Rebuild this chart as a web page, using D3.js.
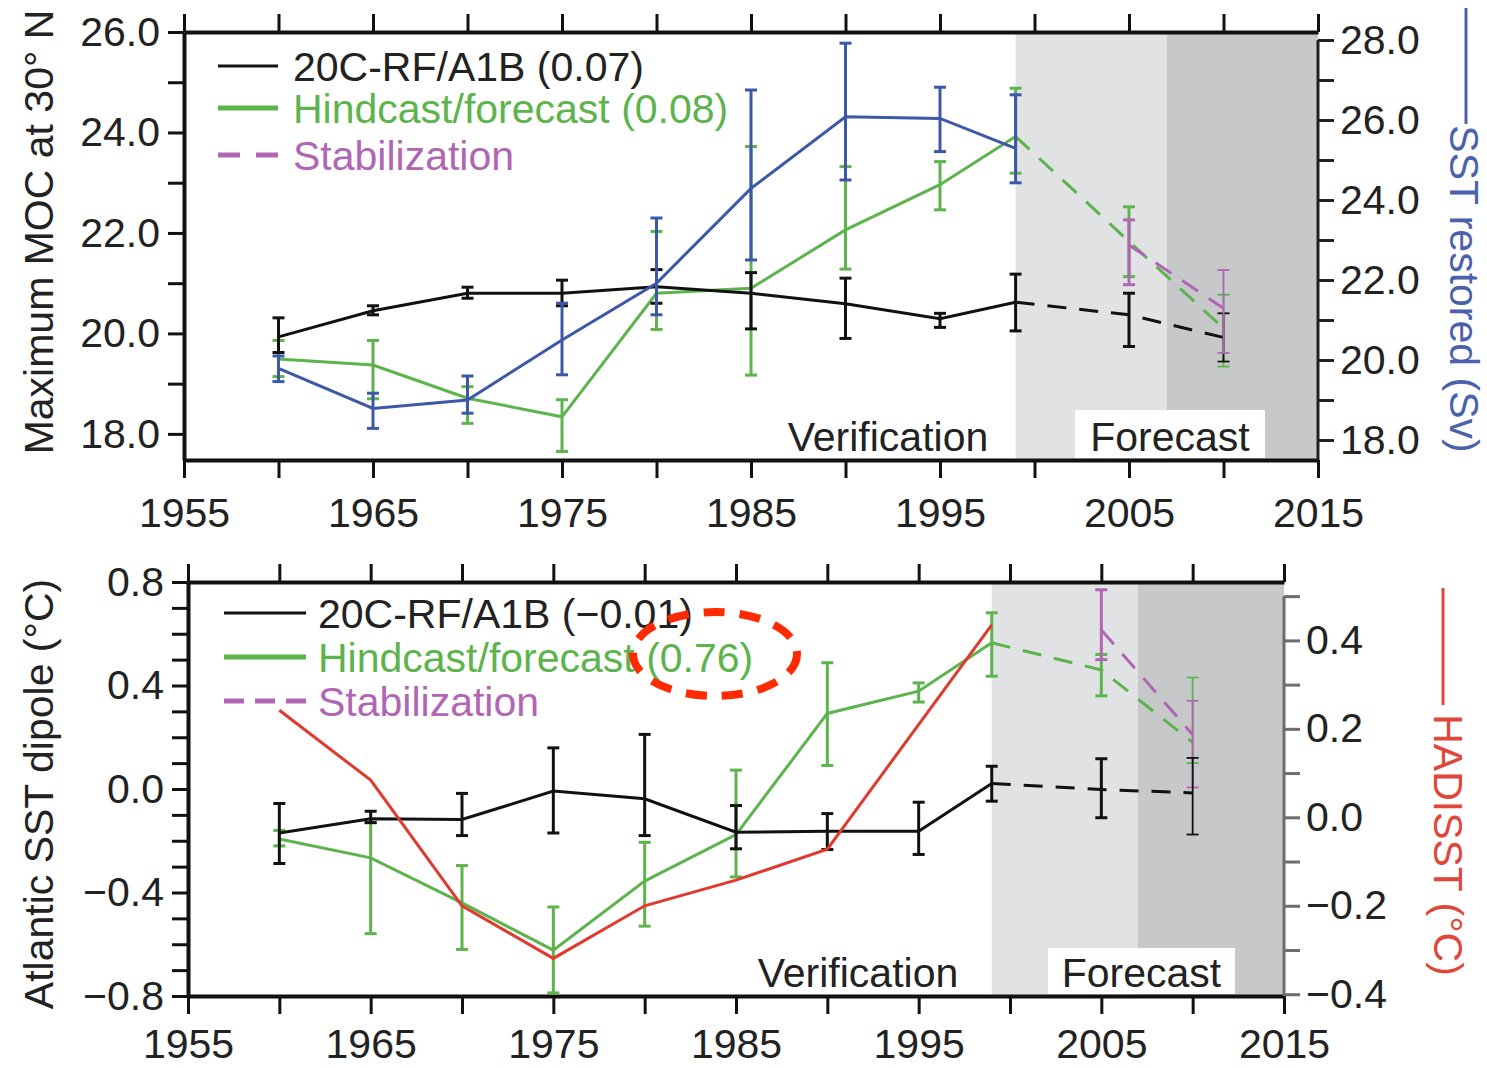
<!DOCTYPE html>
<html>
<head>
<meta charset="utf-8">
<script src="https://cdn.jsdelivr.net/npm/d3@7"></script>
<style>
body { margin: 0; background: #fff; }
svg text { font-family: "Liberation Sans", Arial, Helvetica, sans-serif; }
</style>
</head>
<body>
<svg class="chart" width="1487" height="1068"></svg>
<script>
// ---- data ----------------------------------------------------------------
// decades of the hindcasts plus the two forecast points
var years = [1960, 1965, 1970, 1975, 1980, 1985, 1990, 1995, 1999, 2005, 2010];
var stabYears = [2005, 2010];
var obsYears = [1960, 1965, 1970, 1975, 1980, 1985, 1990, 1995, 1999];
var lastHindcast = 1999;
var shadeEdges = [1999, 2007, 2015];

// upper panel: maximum MOC at 30N (Sv)
var mocRef   = [19.93, 20.45, 20.80, 20.80, 20.93, 20.80, 20.59, 20.29, 20.62, 20.37, 19.92];
var mocRefLo = [19.62, 20.37, 20.70, 20.55, 20.60, 20.09, 19.90, 20.12, 20.05, 19.74, 19.44];
var mocRefHi = [20.31, 20.55, 20.92, 21.06, 21.27, 21.21, 21.10, 20.40, 21.18, 20.80, 20.40];
var mocHind   = [19.49, 19.37, 18.71, 18.34, 20.80, 20.90, 22.06, 22.96, 23.92, 21.83, 20.10];
var mocHindLo = [19.14, 18.70, 18.21, 17.65, 20.08, 19.17, 21.28, 22.46, 23.19, 21.13, 19.34];
var mocHindHi = [19.86, 19.86, 18.94, 18.68, 22.03, 23.72, 23.32, 23.42, 24.88, 22.52, 20.77];
var mocStab   = [21.76, 20.50];
var mocStabLo = [20.97, 19.61];
var mocStabHi = [22.26, 21.26];
// SST-restored run (right axis)
var sstRest   = [19.79, 18.79, 19.00, 20.50, 21.92, 24.29, 26.08, 26.04, 25.29];
var sstRestLo = [19.46, 18.29, 18.67, 19.63, 21.13, 22.50, 24.50, 25.21, 24.43];
var sstRestHi = [20.10, 19.17, 19.60, 21.42, 23.55, 26.75, 27.92, 26.82, 26.63];

// lower panel: Atlantic SST dipole (degC)
var dipRef   = [-0.170, -0.115, -0.118, -0.008, -0.038, -0.167, -0.163, -0.163, 0.021, -0.002, -0.015];
var dipRefLo = [-0.288, -0.130, -0.180, -0.170, -0.180, -0.231, -0.234, -0.253, -0.047, -0.111, -0.176];
var dipRefHi = [-0.056, -0.086, -0.017, 0.159, 0.211, -0.064, -0.095, -0.051, 0.088, 0.117, 0.120];
var dipHind   = [-0.193, -0.266, -0.440, -0.623, -0.356, -0.176, 0.292, 0.378, 0.565, 0.460, 0.180];
var dipHindLo = [-0.220, -0.559, -0.620, -0.788, -0.530, -0.340, 0.091, 0.336, 0.436, 0.360, 0.100];
var dipHindHi = [-0.160, -0.130, -0.296, -0.456, -0.206, 0.073, 0.488, 0.410, 0.681, 0.520, 0.431];
var dipStab   = [0.615, 0.210];
var dipStabLo = [0.500, 0.006];
var dipStabHi = [0.770, 0.341];
// HadISST observations (right axis)
var hadisst = [0.242, 0.084, -0.200, -0.319, -0.200, -0.142, -0.072, 0.435];
var hadYears = [1960, 1965, 1970, 1975, 1980, 1985, 1990, 1999];

var legendTop = ["20C-RF/A1B (0.07)", "Hindcast/forecast (0.08)", "Stabilization"];
var legendBot = ["20C-RF/A1B (\u22120.01)", "Hindcast/forecast (0.76)", "Stabilization"];

var col = {
  ref: "#111", hind: "#5db34c", stab: "#b066b3", sst: "#3d58a6", had: "#e0392d",
  light: "#e1e2e4", dark: "#c7c8ca"
};

var svg = d3.select("svg.chart");
var minus = function(s) { return String(s).replace("-", "\u2212"); };

// ---- helpers -------------------------------------------------------------
var lineGen = function(x, y) {
  return d3.line().x(function(d) { return x(d[0]); }).y(function(d) { return y(d[1]); });
};

// solid up to the last hindcast, dashed afterwards
var drawSeries = function(g, x, y, yrs, vals, color, width) {
  var pts = yrs.map(function(d, i) { return [d, vals[i]]; });
  var solid = pts.filter(function(p) { return p[0] <= lastHindcast; });
  var dashed = pts.filter(function(p) { return p[0] >= lastHindcast; });
  if (solid.length > 1)
    g.append("path").datum(solid).attr("d", lineGen(x, y))
      .attr("fill", "none").attr("stroke", color).attr("stroke-width", width);
  if (dashed.length > 1)
    g.append("path").datum(dashed).attr("d", lineGen(x, y))
      .attr("fill", "none").attr("stroke", color).attr("stroke-width", width)
      .attr("stroke-dasharray", "19,13");
};

var drawBars = function(g, x, y, yrs, lo, hi, color) {
  var data = yrs.map(function(d, i) { return {yr: d, lo: lo[i], hi: hi[i]}; });
  var bg = g.append("g").attr("stroke", color);
  data.forEach(function(d) {
    var w = d.yr === 2010 ? 1.8 : 3;
    bg.append("line").attr("x1", x(d.yr)).attr("x2", x(d.yr))
      .attr("y1", y(d.lo)).attr("y2", y(d.hi)).attr("stroke-width", w);
    [d.lo, d.hi].forEach(function(v) {
      bg.append("line").attr("x1", x(d.yr) - 6).attr("x2", x(d.yr) + 6)
        .attr("y1", y(v)).attr("y2", y(v)).attr("stroke-width", w);
    });
  });
};

var styleAxis = function(g, size, color) {
  g.attr("font-size", size).attr("font-family", null);
  g.selectAll("text").attr("fill", "#222");
  g.selectAll("line").attr("stroke", color || "#111").attr("stroke-width", 3);
  g.select(".domain").attr("stroke", color || "#111").attr("stroke-width", 4);
};

var drawPanel = function(p) {
  var x = d3.scaleLinear().domain([1955, 2015]).range([p.left, p.right]);
  var y = d3.scaleLinear().domain(p.yDomain).range([p.bottom, p.top]);
  var yR = d3.scaleLinear().domain(p.yRDomain).range([p.bottom, p.top]);
  var g = svg.append("g");

  // verification / forecast shading
  g.append("rect").attr("x", x(shadeEdges[0])).attr("y", p.top)
    .attr("width", x(shadeEdges[1]) - x(shadeEdges[0])).attr("height", p.bottom - p.top)
    .attr("fill", col.light);
  g.append("rect").attr("x", x(shadeEdges[1])).attr("y", p.top)
    .attr("width", x(shadeEdges[2]) - x(shadeEdges[1])).attr("height", p.bottom - p.top)
    .attr("fill", col.dark);
  g.append("rect").attr("x", p.fcBox[0]).attr("y", p.fcBox[1])
    .attr("width", p.fcBox[2]).attr("height", p.fcBox[3]).attr("fill", "#fff");
  g.append("text").attr("x", p.verifX).attr("y", p.labelY).attr("text-anchor", "middle")
    .attr("font-size", 41).attr("fill", "#222").text("Verification");
  g.append("text").attr("x", p.fcBox[0] + p.fcBox[2] / 2).attr("y", p.labelY)
    .attr("text-anchor", "middle").attr("font-size", 41).attr("fill", "#222").text("Forecast");

  // axes
  var fiveYears = d3.range(1955, 2016, 5);
  var gx = g.append("g").attr("transform", "translate(0," + p.bottom + ")")
    .call(d3.axisBottom(x).tickValues(fiveYears).tickSize(18).tickSizeOuter(0)
      .tickPadding(p.xPad)
      .tickFormat(function(d) { return (d - 1955) % 10 === 0 ? d : ""; }));
  styleAxis(gx, 41);
  var gt = g.append("g").attr("transform", "translate(0," + p.top + ")")
    .call(d3.axisTop(x).tickValues(fiveYears).tickSize(18).tickSizeOuter(0).tickFormat(""));
  styleAxis(gt, 41);
  var gy = g.append("g").attr("transform", "translate(" + p.left + ",0)")
    .call(d3.axisLeft(y).tickValues(p.yTicks).tickSize(16).tickSizeOuter(0).tickPadding(8)
      .tickFormat(p.yFormat));
  styleAxis(gy, 41);
  var gr = g.append("g").attr("transform", "translate(" + p.right + ",0)")
    .call(d3.axisRight(yR).tickValues(p.yRTicks).tickSize(16).tickSizeOuter(0).tickPadding(6)
      .tickFormat(p.yRFormat));
  styleAxis(gr, 41, p.rightColor);
  gr.select(".domain").remove();
  gr.append("line").attr("x1", 0).attr("x2", 0)
    .attr("y1", yR(p.yRTicks[p.yRTicks.length - 1])).attr("y2", p.bottom)
    .attr("stroke", p.rightColor).attr("stroke-width", 3);

  // axis titles
  svg.append("text").attr("transform", "translate(" + p.leftTitleX + "," + p.leftTitleY + ") rotate(-90)")
    .attr("text-anchor", "middle").attr("font-size", 41).attr("fill", "#222").text(p.leftTitle);
  svg.append("line").attr("x1", p.rightKey[0]).attr("x2", p.rightKey[0])
    .attr("y1", p.rightKey[1]).attr("y2", p.rightKey[2])
    .attr("stroke", p.rightTitleColor).attr("stroke-width", 3);
  svg.append("text").attr("transform", "translate(" + p.rightTitleX + "," + p.rightTitleY + ") rotate(90)")
    .attr("text-anchor", "middle").attr("font-size", 41).attr("fill", p.rightTitleColor).text(p.rightTitle);

  // legend
  var lg = g.append("g");
  var lcols = [col.ref, col.hind, col.stab];
  p.legend.forEach(function(t, i) {
    lg.append("line").attr("x1", p.legX[0]).attr("x2", p.legX[1])
      .attr("y1", p.legY[i]).attr("y2", p.legY[i])
      .attr("stroke", lcols[i]).attr("stroke-width", i === 0 ? 3 : 5)
      .attr("stroke-dasharray", i === 2 ? p.legDash : null);
    lg.append("text").attr("x", p.legX[2]).attr("y", p.legY[i] + 15)
      .attr("font-size", 41).attr("fill", i === 0 ? "#222" : lcols[i]).text(t);
  });

  return {g: g, x: x, y: y, yR: yR};
};

// ---- upper panel: MOC ----------------------------------------------------
var upper = drawPanel({
  left: 184, right: 1318, top: 32, bottom: 460,
  yDomain: [17.48, 26], yRDomain: [17.5, 28.2],
  yTicks: d3.range(18, 26.5, 1), yRTicks: d3.range(18, 28.5, 1),
  yFormat: function(d) { return d % 2 === 0 ? d3.format(".1f")(d) : ""; },
  yRFormat: function(d) { return d % 2 === 0 ? d3.format(".1f")(d) : ""; },
  rightColor: "#222", xPad: 20,
  fcBox: [1075, 410, 190, 48], verifX: 888, labelY: 451,
  leftTitle: "Maximum MOC at 30\u00b0 N", leftTitleX: 53, leftTitleY: 232,
  rightTitle: "SST restored (Sv)", rightTitleX: 1450, rightTitleY: 289,
  rightTitleColor: "#4a62ab", rightKey: [1466, 8, 124],
  legend: legendTop, legX: [218, 278, 293], legY: [66, 108, 155], legDash: "22,16"
});
drawSeries(upper.g, upper.x, upper.y, years, mocHind, col.hind, 3);
drawBars(upper.g, upper.x, upper.y, years, mocHindLo, mocHindHi, col.hind);
drawBars(upper.g, upper.x, upper.y, years, mocRefLo, mocRefHi, col.ref);
drawSeries(upper.g, upper.x, upper.y, years, mocRef, col.ref, 3);
drawBars(upper.g, upper.x, upper.y, stabYears, mocStabLo, mocStabHi, col.stab);
upper.g.append("path").datum(stabYears.map(function(d, i) { return [d, mocStab[i]]; }))
  .attr("d", lineGen(upper.x, upper.y)).attr("fill", "none").attr("stroke", col.stab)
  .attr("stroke-width", 3).attr("stroke-dasharray", "19,13");
drawBars(upper.g, upper.x, upper.yR, obsYears, sstRestLo, sstRestHi, col.sst);
drawSeries(upper.g, upper.x, upper.yR, obsYears, sstRest, col.sst, 3);

// ---- lower panel: SST dipole ---------------------------------------------
var tenths = function(a, b) { return d3.range(a, b + 1).map(function(i) { return i / 10; }); };
var lower = drawPanel({
  left: 188, right: 1284, top: 582, bottom: 996,
  yDomain: [-0.8, 0.8], yRDomain: [-0.404, 0.532],
  yTicks: tenths(-8, 8), yRTicks: tenths(-4, 5),
  yFormat: function(d) { return Math.round(d * 10) % 4 === 0 ? minus(d3.format(".1f")(d)) : ""; },
  yRFormat: function(d) { return Math.round(d * 10) % 2 === 0 ? minus(d3.format(".1f")(d)) : ""; },
  rightColor: "#6d6d6d", xPad: 15,
  fcBox: [1048, 948, 187, 46], verifX: 858, labelY: 987,
  leftTitle: "Atlantic SST dipole (\u00b0C)", leftTitleX: 53, leftTitleY: 794,
  rightTitle: "HADISST (\u00b0C)", rightTitleX: 1434, rightTitleY: 845,
  rightTitleColor: "#e0473b", rightKey: [1443, 588, 705],
  legend: legendBot, legX: [224, 306, 318], legY: [613, 657, 701], legDash: "20,11"
});
drawSeries(lower.g, lower.x, lower.y, years, dipHind, col.hind, 3);
drawBars(lower.g, lower.x, lower.y, years, dipHindLo, dipHindHi, col.hind);
drawBars(lower.g, lower.x, lower.y, stabYears, dipStabLo, dipStabHi, col.stab);
lower.g.append("path").datum(stabYears.map(function(d, i) { return [d, dipStab[i]]; }))
  .attr("d", lineGen(lower.x, lower.y)).attr("fill", "none").attr("stroke", col.stab)
  .attr("stroke-width", 3).attr("stroke-dasharray", "19,13");
drawBars(lower.g, lower.x, lower.y, years, dipRefLo, dipRefHi, col.ref);
drawSeries(lower.g, lower.x, lower.y, years, dipRef, col.ref, 3);
drawSeries(lower.g, lower.x, lower.yR, hadYears, hadisst, col.had, 3);

// highlight ring round the hindcast skill score
svg.append("ellipse").attr("cx", 715).attr("cy", 654).attr("rx", 82).attr("ry", 42)
  .attr("fill", "none").attr("stroke", "#ff2a00").attr("stroke-width", 8)
  .attr("stroke-dasharray", "21,15");
</script>
</body>
</html>
